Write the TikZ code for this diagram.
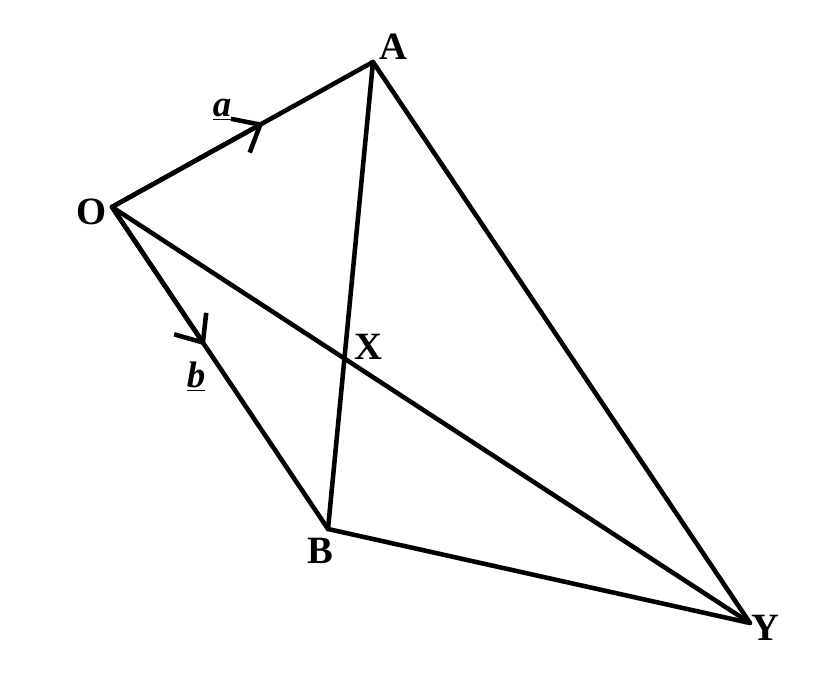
\documentclass[tikz,border=0pt]{standalone}
\usepackage{fontspec}
\setmainfont{Liberation Serif}
\usetikzlibrary{arrows.meta,calc}

\begin{document}
\begin{tikzpicture}[x=0.02cm,y=-0.02cm,line width=2.6pt,line cap=round,line join=round,
    pt/.style={font=\fontsize{22}{24}\selectfont\bfseries,inner sep=0pt},
    vec/.style={font=\fontsize{21}{22}\selectfont\bfseries\itshape,inner sep=0pt},
    barb/.style={-{Straight Barb[length=13pt,width=22pt]}}]
  \useasboundingbox (0,0) rectangle (822,675);

  % points
  \coordinate (O) at (112,207);
  \coordinate (A) at (373,62);
  \coordinate (B) at (328,529);
  \coordinate (Y) at (750,623);
  \coordinate (X) at (intersection of O--Y and A--B);

  % edges
  \draw (O) -- (A) -- (Y) -- (B) -- cycle;
  \draw (A) -- (B);
  \draw (O) -- (Y);

  % direction marks
  \draw[barb] (O) -- ($(O)!0.58!(A)$);
  \draw[barb] (O) -- ($(O)!0.43!(B)$);

  % labels
  \node[pt] (labO) at (92,212) {O};
  \node[pt] (labA) at (393,47) {A};
  \node[pt] (labX) at (368,347) {X};
  \node[pt] (labB) at (320,551) {B};
  \node[pt] (labY) at (765,628) {Y};
  \node[vec] (laba) at (222,110) {\underline{a}};
  \node[vec] (labb) at (196,377) {\underline{b}};
\end{tikzpicture}
\end{document}
